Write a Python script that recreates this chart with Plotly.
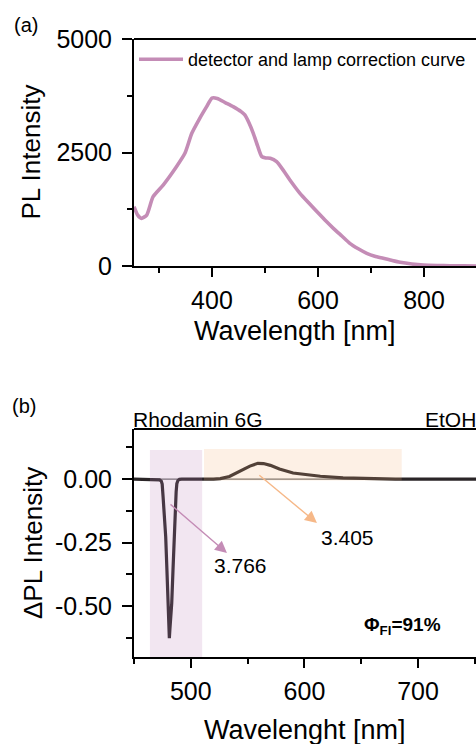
import plotly.graph_objects as go

# ---------------- data ----------------
# (a) detector and lamp correction curve
wl_a = [253, 260, 267, 277, 289, 308, 333, 349, 362, 377, 390, 400, 410, 425, 440,
        455, 462, 470, 478, 486, 494, 502, 510, 522, 535, 547, 566, 585, 601, 615,
        629, 645, 660, 676, 692, 707, 723, 740, 755, 777, 799, 825, 849, 875, 898]
pl_a = [1306, 1120, 1050, 1123, 1527, 1784, 2187, 2482, 2923, 3253, 3510, 3700, 3690, 3600, 3510,
        3400, 3327, 3150, 2923, 2650, 2408, 2380, 2372, 2298, 2100, 1895, 1601, 1360, 1160, 990,
        830, 660, 500, 380, 280, 215, 170, 120, 81, 45, 22, 12, 7, 3, 0]
legend_a = "detector and lamp correction curve"

# (b) difference spectrum Rhodamin 6G in EtOH
wl_b = [450, 470, 472.5, 474, 474.8, 475.6, 476.6, 477.9, 479.0, 480.0, 480.6, 481.1, 481.6,
        482.3, 483.2, 484.3, 485.3, 486.3, 487.1, 487.7, 488.6, 490, 492,
        520, 526, 534, 543, 552, 559, 564, 570, 578, 590,
        602, 614, 634, 658, 680, 751]
dpl_b = [0, 0, -0.003, -0.008, -0.02, -0.07, -0.14, -0.227, -0.36, -0.489, -0.57, -0.626, -0.59,
         -0.55, -0.489, -0.36, -0.227, -0.12, -0.05, -0.018, -0.006, -0.001, 0,
         0, 0.002, 0.010, 0.029, 0.051, 0.062, 0.061, 0.054, 0.040, 0.024,
         0.016, 0.011, 0.005, 0.0015, 0, 0]
zero_b = [0 for _ in wl_b]
ytick_b_vals = [0.0, -0.25, -0.50]
ytick_b_text = ["0.00", "-0.25", "-0.50"]

# highlighted regions (nm, ΔPL)
abs_region = (464, 510, -0.70, 0.114)
em_region = (511.6, 685.6, -0.006, 0.118)
abs_label, em_label = "3.766", "3.405"
abs_arrow = (480.8, -0.0945, 531.8, -0.291)   # tail x, tail y, head x, head y
em_arrow = (559.0, 0.0197, 611.0, -0.173)
abs_text_pos = (543.5, -0.339)
em_text_pos = (637.5, -0.228)

# ---------------- layout helpers (pixel -> paper) ----------------
W, H = 476, 744
ML = 134
def px(x):
    return (x - ML) / (W - ML)
def py(y):
    return (H - y) / H

FONT = "Liberation Sans, Arial, sans-serif"
PINK = "#c48cb6"
ORANGE = "#f6b888"
DARK = "#2a2527"

fig = go.Figure()

fig.add_trace(go.Scatter(x=wl_a, y=pl_a, mode="lines", name=legend_a,
                         line=dict(color=PINK, width=3.6, shape="spline", smoothing=0.6),
                         xaxis="x", yaxis="y", showlegend=True))
fig.add_trace(go.Scatter(x=wl_b, y=zero_b, mode="lines", line=dict(color="#6a6a6a", width=1.2),
                         xaxis="x2", yaxis="y2", showlegend=False))
fig.add_trace(go.Scatter(x=wl_b, y=dpl_b, mode="lines", line=dict(color=DARK, width=3.2),
                         xaxis="x2", yaxis="y2", showlegend=False))

axis_common = dict(showline=True, linecolor="black", linewidth=2, ticks="outside",
                   tickcolor="black", tickwidth=1.6, showgrid=False, zeroline=False,
                   tickfont=dict(family=FONT, size=25, color="black"))

fig.update_layout(
    width=W, height=H,
    margin=dict(l=ML, r=0, t=0, b=0, autoexpand=False),
    paper_bgcolor="white", plot_bgcolor="white",
    font=dict(family=FONT, color="black"),
    xaxis=dict(domain=[0, 1], anchor="y", range=[253, 898], tickmode="linear", tick0=0, dtick=200,
               ticklen=9, minor=dict(dtick=100, tick0=0, ticklen=5, ticks="outside", tickcolor="black"),
               ticklabelstandoff=2, **axis_common),
    yaxis=dict(domain=[py(266), py(39)], anchor="x", range=[0, 5000], tickmode="linear", tick0=0,
               dtick=2500, ticklen=10,
               minor=dict(dtick=1250, tick0=0, ticklen=5, ticks="outside", tickcolor="black"),
               ticklabelstandoff=5, **axis_common),
    xaxis2=dict(domain=[0, 1], anchor="y2", range=[450, 751], tickmode="linear", tick0=0, dtick=100,
                ticklen=9, minor=dict(dtick=50, tick0=0, ticklen=5, ticks="outside", tickcolor="black"),
                ticklabelstandoff=2, **axis_common),
    yaxis2=dict(domain=[py(657), py(429)], anchor="x2", range=[-0.70, 0.197], tickmode="array",
                tickvals=ytick_b_vals, ticktext=ytick_b_text, ticklen=10,
                minor=dict(dtick=0.125, tick0=0, ticklen=6, ticks="outside", tickcolor="black"),
                ticklabelstandoff=5, **axis_common),
    showlegend=True,
    legend=dict(x=0.0, y=py(41), xanchor="left", yanchor="top", bgcolor="rgba(0,0,0,0)",
                font=dict(family=FONT, size=18, color="black"), itemwidth=44,
                borderwidth=0),
)

shapes = [
    # top frame lines
    dict(type="line", xref="x domain", yref="y domain", x0=0, x1=1, y0=1, y1=1,
         line=dict(color="black", width=2)),
    dict(type="line", xref="x2 domain", yref="y2 domain", x0=0, x1=1, y0=1, y1=1,
         line=dict(color="black", width=2)),
    dict(type="rect", xref="x2", yref="y2", x0=abs_region[0], x1=abs_region[1],
         y0=abs_region[2], y1=abs_region[3], fillcolor="rgb(190,130,185)", opacity=0.2,
         line=dict(width=0), layer="above"),
    dict(type="rect", xref="x2", yref="y2", x0=em_region[0], x1=em_region[1],
         y0=em_region[2], y1=em_region[3], fillcolor="rgb(245,180,125)", opacity=0.2,
         line=dict(width=0), layer="above"),
]
fig.update_layout(shapes=shapes)

ann = []
def txt(x, y, s, size=20, xanchor="center", yanchor="middle", angle=0):
    ann.append(dict(x=x, y=y, xref="paper", yref="paper", text=s, showarrow=False,
                    xanchor=xanchor, yanchor=yanchor, textangle=angle,
                    font=dict(family=FONT, size=size, color="black")))

txt(px(26), py(25), "(a)", size=20)
txt(px(24), py(406), "(b)", size=20)
txt(px(30), py(152.5), "PL Intensity", size=26, angle=-90)
txt(px(33), py(543), "ΔPL Intensity", size=26, angle=-90)
txt(px(295), py(331), "Wavelength [nm]", size=27)
txt(px(305), py(730), "Wavelenght [nm]", size=27)
txt(px(131), py(420), "Rhodamin 6G", size=21, xanchor="left")
txt(px(423), py(420), "EtOH", size=21, xanchor="left")
txt(px(443), py(626), "<b>Φ<sub>Fl</sub>=91%</b>", size=19, xanchor="right")

# arrows and values
for (tx, ty, hx, hy), col in [(abs_arrow, PINK), (em_arrow, ORANGE)]:
    ann.append(dict(x=hx, y=hy, ax=tx, ay=ty, xref="x2", yref="y2", axref="x2", ayref="y2",
                    showarrow=True, arrowhead=2, arrowsize=1.7, arrowwidth=1.4, arrowcolor=col,
                    text=""))
ann.append(dict(x=abs_text_pos[0], y=abs_text_pos[1], xref="x2", yref="y2", text=abs_label,
                showarrow=False, font=dict(family=FONT, size=21, color="black")))
ann.append(dict(x=em_text_pos[0], y=em_text_pos[1], xref="x2", yref="y2", text=em_label,
                showarrow=False, font=dict(family=FONT, size=21, color="black")))

fig.update_layout(annotations=ann)

fig.write_html("out.html")
